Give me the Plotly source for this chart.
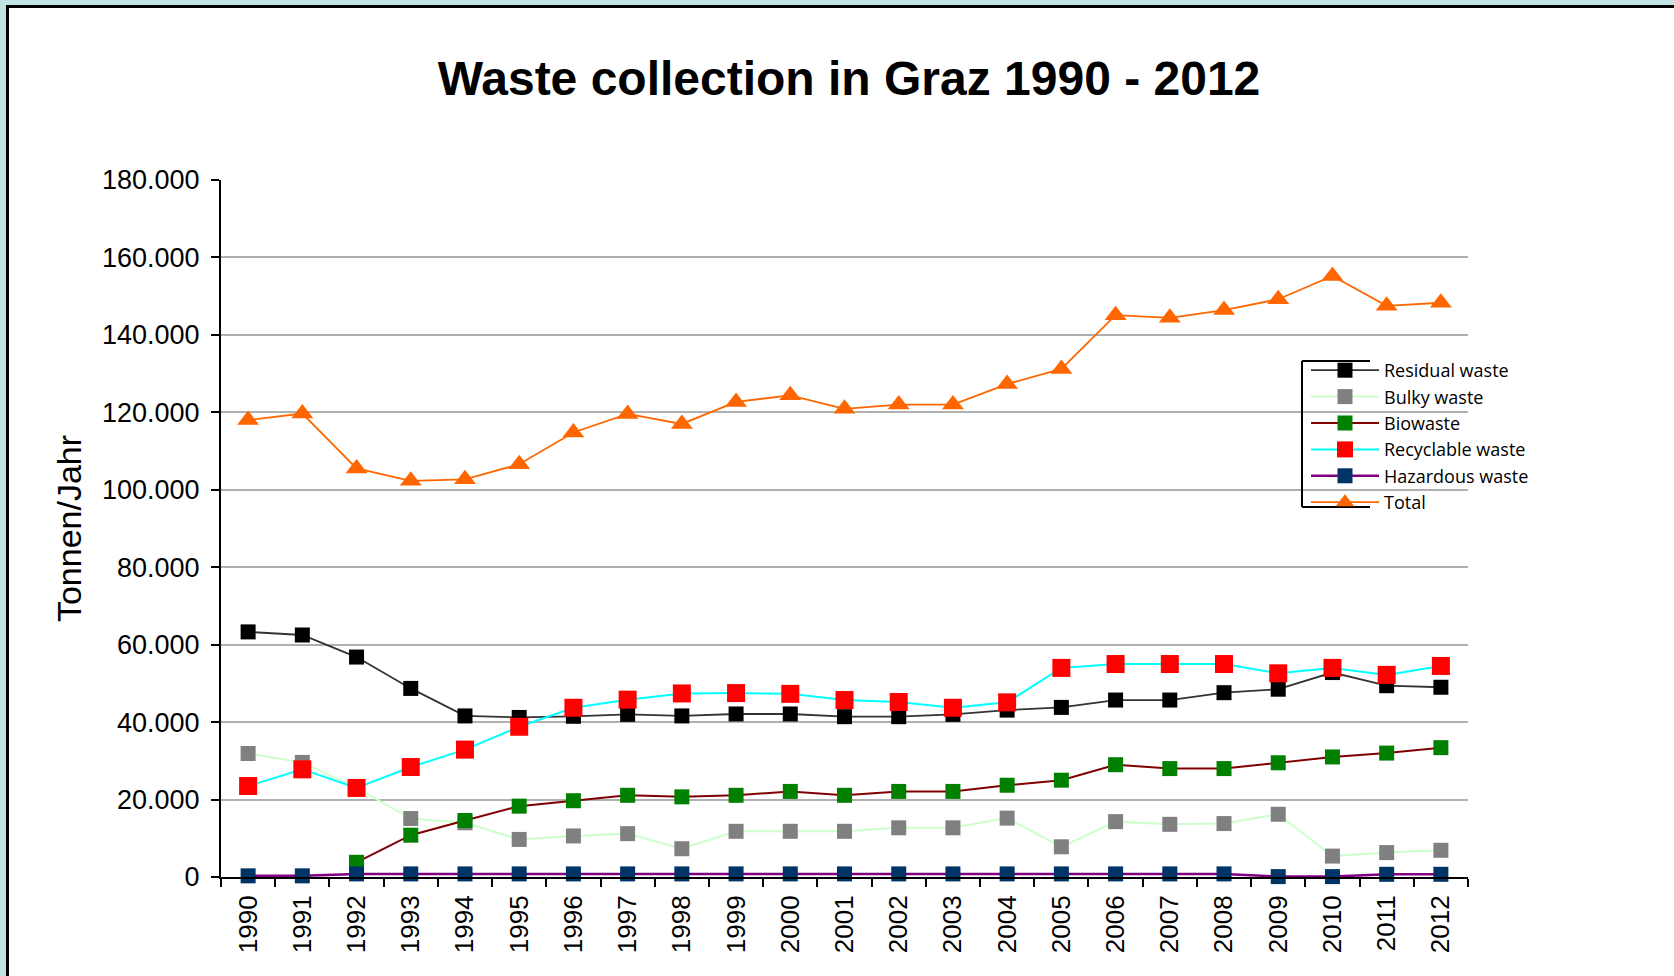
import plotly.graph_objects as go

years = [str(y) for y in range(1990, 2013)]

residual = [63.3, 62.5, 56.8, 48.7, 41.6, 41.2, 41.5, 42.0, 41.6, 42.1, 42.1, 41.4, 41.4,
            42.0, 43.1, 43.8, 45.7, 45.7, 47.6, 48.5, 52.8, 49.4, 49.0]
bulky = [31.9, 29.6, 23.0, 15.1, 14.0, 9.7, 10.6, 11.2, 7.3, 11.8, 11.8, 11.8, 12.7,
         12.7, 15.2, 7.8, 14.3, 13.6, 13.8, 16.2, 5.4, 6.3, 6.9]
biowaste = [None, None, 3.8, 10.8, 14.6, 18.3, 19.7, 21.1, 20.7, 21.1, 22.1, 21.1, 22.1,
            22.1, 23.7, 25.0, 29.0, 28.0, 28.0, 29.5, 31.0, 32.0, 33.4]
recyclable = [23.5, 27.8, 23.0, 28.4, 32.9, 38.8, 43.7, 45.8, 47.4, 47.5, 47.3, 45.7, 45.2,
              43.7, 45.1, 54.0, 55.0, 55.0, 55.0, 52.6, 54.0, 52.2, 54.5]
hazardous = [0.3, 0.3, 0.8, 0.8, 0.8, 0.8, 0.8, 0.8, 0.8, 0.8, 0.8, 0.8, 0.8,
             0.8, 0.8, 0.8, 0.8, 0.8, 0.8, 0.1, 0.1, 0.7, 0.7]
total = [118.0, 119.7, 105.5, 102.3, 102.7, 106.6, 114.8, 119.6, 117.0, 122.7, 124.4, 120.9, 122.0,
         122.0, 127.3, 131.2, 145.1, 144.4, 146.4, 149.2, 155.2, 147.5, 148.3]

y_ticks = list(range(0, 180001, 20000))


def k(vals):
    return [None if v is None else v * 1000 for v in vals]


W, H = 1674, 976
L, R, T, B = 221, 1468, 180, 877


def px(x):
    return (x - L) / (R - L)


def py(y):
    return (B - y) / (B - T)


series = [
    # name, values, line color, line width, marker color, symbol, size, legendrank
    ("Bulky waste", bulky, "#ccffcc", 2, "#808080", "square", 15, 2),
    ("Residual waste", residual, "#333333", 1.8, "#000000", "square", 15, 1),
    ("Biowaste", biowaste, "#800000", 2, "#008000", "square", 15, 3),
    ("Hazardous waste", hazardous, "#800080", 2.5, "#003366", "square", 15, 5),
    ("Recyclable waste", recyclable, "#00ffff", 2, "#ff0000", "square", 18, 4),
    ("Total", total, "#ff6600", 1.8, "#ff6600", "triangle-up", 19, 6),
]

fig = go.Figure()
for name, vals, lc, lw, mc, sym, sz, rank in series:
    fig.add_trace(go.Scatter(
        x=years, y=k(vals), name=name, mode="lines+markers",
        line=dict(color=lc, width=lw),
        marker=dict(color=mc, symbol=sym, size=sz, line=dict(width=0)),
        legendrank=rank, cliponaxis=False, connectgaps=False,
    ))

shapes = [
    # outer white panel with black frame
    dict(type="rect", xref="paper", yref="paper",
         x0=px(7.5), x1=px(1800), y0=py(1100), y1=py(6.5),
         fillcolor="white", line=dict(color="black", width=3), layer="below"),
    # legend bracket
    dict(type="line", xref="paper", yref="paper", x0=px(1302), x1=px(1302),
         y0=py(507), y1=py(361), line=dict(color="black", width=2)),
    dict(type="line", xref="paper", yref="paper", x0=px(1302), x1=px(1370),
         y0=py(361), y1=py(361), line=dict(color="black", width=2)),
    dict(type="line", xref="paper", yref="paper", x0=px(1302), x1=px(1370),
         y0=py(507), y1=py(507), line=dict(color="black", width=2)),
]

fig.update_layout(
    width=W, height=H,
    margin=dict(l=L, r=W - R, t=T, b=H - B),
    paper_bgcolor="#c1e3e4",
    plot_bgcolor="rgba(0,0,0,0)",
    separators=",.",
    font=dict(family="Liberation Sans, Arial, sans-serif", color="black"),
    title=dict(text="<b>Waste collection in Graz 1990 - 2012</b>",
               x=849 / W, xanchor="center", xref="container",
               y=1 - 78 / H, yanchor="middle", yref="container",
               font=dict(size=48, family="Liberation Sans, Arial, sans-serif", color="black")),
    showlegend=True,
    legend=dict(x=px(1306), xanchor="left", y=py(352), yanchor="top",
                bgcolor="rgba(0,0,0,0)", borderwidth=0,
                font=dict(family="Open Sans, sans-serif", size=18, color="black"),
                itemwidth=68, tracegroupgap=0),
    shapes=shapes,
    xaxis=dict(type="category", tickson="boundaries", showline=True, linecolor="black",
               linewidth=2, ticks="outside", ticklen=8, tickwidth=2, tickcolor="black",
               tickangle=-90, tickfont=dict(size=26), showgrid=False,
               range=[-0.5, len(years) - 0.5], ticklabelstandoff=6),
    yaxis=dict(range=[0, 180000], tickvals=y_ticks, tickformat=",d",
               showline=True, linecolor="black", linewidth=2,
               ticks="outside", ticklen=8, tickwidth=2, tickcolor="black",
               tickfont=dict(size=27), showgrid=True, gridcolor="#b0b0b0", gridwidth=1.5,
               zeroline=False, ticklabelstandoff=6,
               title=dict(text="Tonnen/Jahr", font=dict(size=34), standoff=10)),
)

fig.write_html(
    "out.html",
    config={"displayModeBar": False},
    post_script="document.body.style.margin='0px';document.body.style.background='#c1e3e4';",
)
